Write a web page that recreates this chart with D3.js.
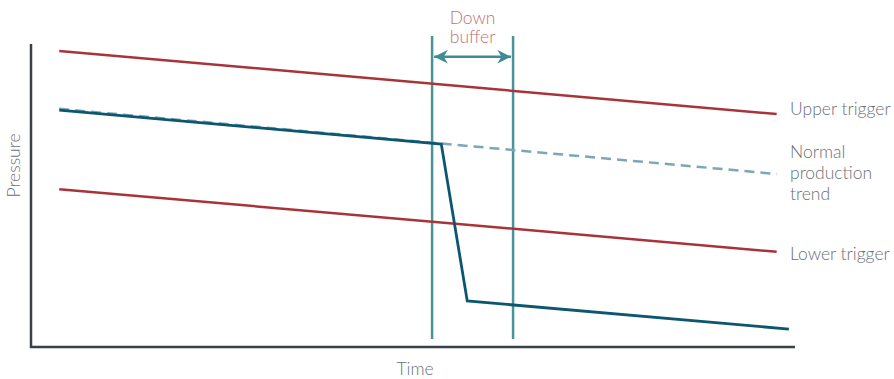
<!DOCTYPE html>
<html><head><meta charset="utf-8">
<script src="https://cdn.jsdelivr.net/npm/d3@7"></script>
<style>body{margin:0;background:#fff}svg{display:block;font-family:Lato,"Open Sans",sans-serif}</style>
</head><body><div id="chart"></div>
<script>
// Data (time 0-100, pressure 0-100, arbitrary units)
const upperTrigger = [[3.7, 97.7], [97.6, 76.9]];
const lowerTrigger = [[3.7, 52.1], [97.6, 31.4]];
const normalTrend = [[3.7, 78.6], [97.6, 57.1]];
const actualPressure = [[3.7, 78.2], [53.7, 67.0], [57.1, 15.2], [99.2, 5.9]];
const bufferStart = 52.5, bufferEnd = 63.1;
const bufferRange = [2.6, 102.6];
const arrowLevel = 95.8;
const seriesLabels = [
  {lines: ["Upper trigger"], y: 76.6},
  {lines: ["Normal", "production", "trend"], y: 62.4},
  {lines: ["Lower trigger"], y: 28.6}
];

const W = 894, H = 379;
const svg = d3.select("#chart").append("svg").attr("width", W).attr("height", H);
const x = d3.scaleLinear().domain([0, 100]).range([31, 795]);
const y = d3.scaleLinear().domain([0, 100]).range([347, 44]);
const line = d3.line().x(d => x(d[0])).y(d => y(d[1]));

const defs = svg.append("defs");
["s", "e"].forEach(k => {
  defs.append("marker").attr("id", "arr" + k).attr("viewBox", "0 0 10 10")
    .attr("refX", k === "e" ? 10 : 0).attr("refY", 5).attr("markerWidth", 8).attr("markerHeight", 5.5)
    .attr("markerUnits", "strokeWidth").attr("orient", "auto")
    .append("path").attr("d", k === "e" ? "M0,0 L10,5 L0,10 L3,5 Z" : "M10,0 L0,5 L10,10 L7,5 Z").attr("fill", "#3f8d92");
});

// axes
svg.append("path").attr("d", `M${x(0)},${y(100)}V${y(0)}H${x(100)}`)
  .attr("fill", "none").attr("stroke", "#3a4249").attr("stroke-width", 2.5);

// buffer lines
[bufferStart, bufferEnd].forEach(b => {
  svg.append("line").attr("x1", x(b)).attr("x2", x(b)).attr("y1", y(bufferRange[1])).attr("y2", y(bufferRange[0]))
    .attr("stroke", "#4a9499").attr("stroke-width", 2.5);
});
svg.append("line").attr("x1", x(bufferStart) + 2).attr("x2", x(bufferEnd) - 2)
  .attr("y1", y(arrowLevel)).attr("y2", y(arrowLevel))
  .attr("stroke", "#3f8d92").attr("stroke-width", 2.5)
  .attr("marker-start", "url(#arrs)").attr("marker-end", "url(#arre)");

svg.append("path").attr("d", line(upperTrigger)).attr("fill", "none").attr("stroke", "#a8343a").attr("stroke-width", 2.5);
svg.append("path").attr("d", line(lowerTrigger)).attr("fill", "none").attr("stroke", "#a8343a").attr("stroke-width", 2.5);
svg.append("path").attr("d", line(normalTrend)).attr("fill", "none").attr("stroke", "#7ba7b8").attr("stroke-width", 2.5).attr("stroke-dasharray", "10,6");
svg.append("path").attr("d", line(actualPressure)).attr("fill", "none").attr("stroke", "#0c5670").attr("stroke-width", 2.8).attr("stroke-linejoin", "miter");

// labels
const tc = "#6a7176", fs = 17.5;
seriesLabels.forEach(l => {
  const t = svg.append("text").attr("x", 790).attr("y", y(l.y)).attr("fill", tc).attr("font-size", fs).attr("font-weight", 300);
  l.lines.forEach((s, i) => t.append("tspan").attr("x", 790).attr("dy", i === 0 ? 0 : 21).text(s));
});
const db = svg.append("text").attr("text-anchor", "middle").attr("fill", "#c26f75").attr("font-size", fs).attr("font-weight", 300);
db.append("tspan").attr("x", x((bufferStart + bufferEnd) / 2)).attr("y", 24).text("Down");
db.append("tspan").attr("x", x((bufferStart + bufferEnd) / 2)).attr("y", 43).text("buffer");
svg.append("text").attr("x", 415).attr("y", 375).attr("text-anchor", "middle").attr("fill", tc).attr("font-size", fs).attr("font-weight", 300).text("Time");
svg.append("text").attr("transform", `translate(20,${(y(100)+y(0))/2 - 30}) rotate(-90)`).attr("text-anchor", "middle")
  .attr("fill", tc).attr("font-size", fs).attr("font-weight", 300).text("Pressure");
</script></body></html>
